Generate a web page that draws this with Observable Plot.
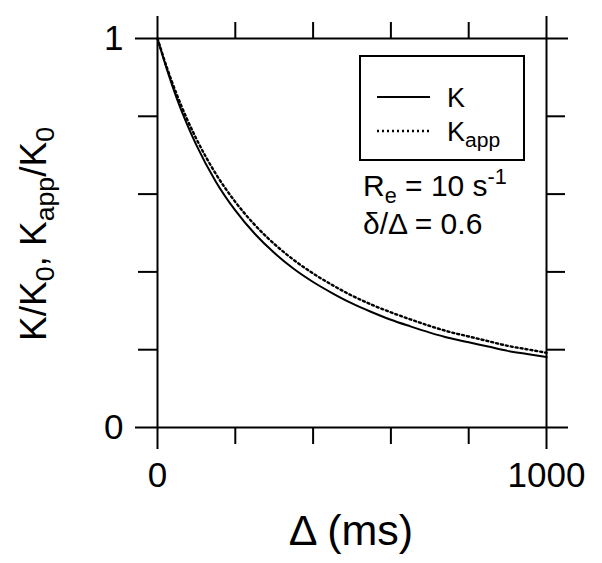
<!DOCTYPE html>
<html>
<head>
<meta charset="utf-8">
<script src="https://cdn.jsdelivr.net/npm/d3@7"></script>
<script src="https://cdn.jsdelivr.net/npm/@observablehq/plot@0.6"></script>
<style>
  html, body { margin: 0; padding: 0; background: white; }
  #chart svg { display: block; }
</style>
</head>
<body>
<div id="chart"></div>
<script>
// ---- data ----
const delta = [0, 25, 50, 75, 100, 150, 200, 250, 300, 350, 400, 450, 500, 550, 600, 650, 700, 750, 800, 850, 900, 950, 1000];
const kRel = [1.0, 0.918, 0.845, 0.782, 0.726, 0.632, 0.558, 0.498, 0.449, 0.408, 0.374, 0.345, 0.319, 0.297, 0.277, 0.26, 0.244, 0.23, 0.219, 0.208, 0.197, 0.189, 0.181];
const kappRel = [1.0, 0.923, 0.855, 0.795, 0.742, 0.652, 0.58, 0.521, 0.472, 0.431, 0.396, 0.366, 0.339, 0.316, 0.296, 0.278, 0.261, 0.246, 0.234, 0.222, 0.21, 0.201, 0.192];
const xMinorTicks = [200, 400, 600, 800];
const xTickLabels = [0, 1000];
const yMinorTicks = [0.2, 0.4, 0.6, 0.8];
const yTickLabels = [0, 1];
const seriesNames = ["K", "K_{app}"];
const xLabel = "\u0394 (ms)";
const yLabel = "K/K_{0}, K_{app}/K_{0}";
const annotations = ["R_{e} = 10 s^{-1}", "\u03b4/\u0394 = 0.6"];

const kRows = delta.map((d, i) => ({delta: d, v: kRel[i]}));
const kappRows = delta.map((d, i) => ({delta: d, v: kappRel[i]}));

const FONT = "'Liberation Sans', Arial, Helvetica, sans-serif";
const W = 602, H = 563;
const M = {left: 157, right: 56, top: 38, bottom: 136};
const DOTS = "2,3";
const blank = () => "";

const plot = Plot.plot({
  width: W, height: H,
  marginLeft: M.left, marginRight: M.right, marginTop: M.top, marginBottom: M.bottom,
  style: {fontFamily: FONT, fontSize: "35px", background: "white", color: "black"},
  x: {domain: [0, 1000], label: null},
  y: {domain: [0, 1], label: null},
  marks: [
    // frame lines (extended past the corners)
    Plot.ruleY([0, 1], {insetLeft: -22, insetRight: -22, strokeWidth: 2}),
    Plot.ruleX([0, 1000], {insetTop: -22, insetBottom: -22, strokeWidth: 2}),
    // minor ticks on all sides
    Plot.axisX(xMinorTicks, {anchor: "bottom", tickSize: 17, strokeWidth: 2, tickFormat: blank, label: null}),
    Plot.axisX(xMinorTicks, {anchor: "top", tickSize: 17, strokeWidth: 2, tickFormat: blank, label: null}),
    Plot.axisY(yMinorTicks, {anchor: "left", tickSize: 19, strokeWidth: 2, tickFormat: blank, label: null}),
    Plot.axisY(yMinorTicks, {anchor: "right", tickSize: 18, strokeWidth: 2, tickFormat: blank, label: null}),
    // tick labels
    Plot.axisX(xTickLabels, {anchor: "bottom", tickSize: 0, tickPadding: 35, fontSize: 35, tickFormat: d => `${d}`, label: null}),
    Plot.axisY(yTickLabels, {anchor: "left", tickSize: 0, tickPadding: 34, fontSize: 35, tickFormat: d => `${d}`, label: null}),
    // curves
    Plot.line(kappRows, {x: "delta", y: "v", stroke: "black", strokeWidth: 2.4, strokeDasharray: DOTS, curve: "monotone-x"}),
    Plot.line(kRows, {x: "delta", y: "v", stroke: "black", strokeWidth: 2, curve: "monotone-x"})
  ]
});
document.getElementById("chart").appendChild(plot);

// ---- rich text helper (sub/superscripts) ----
function richText(g, str, size, subScale = 0.72) {
  const parts = str.split(/(_\{[^}]*\}|\^\{[^}]*\})/).filter(s => s.length);
  let shift = 0;
  for (const p of parts) {
    let target = 0, txt = p, fs = size;
    if (p.startsWith("_{")) { target = 0.22 * size; txt = p.slice(2, -1); fs = size * subScale; }
    else if (p.startsWith("^{")) { target = -0.4 * size; txt = p.slice(2, -1); fs = size * subScale; }
    g.append("tspan").attr("dy", target - shift).attr("font-size", fs).text(txt);
    shift = target;
  }
}

const svg = d3.select(plot);
const ann = svg.append("g").attr("font-family", FONT).attr("fill", "black").attr("text-anchor", "start");

// axis titles
const yl = ann.append("text").attr("transform", "translate(46,234) rotate(-90)")
  .attr("text-anchor", "middle").attr("font-size", 37);
richText(yl, yLabel, 37);
const xl = ann.append("text").attr("x", 351).attr("y", 545)
  .attr("text-anchor", "middle").attr("font-size", 43);
richText(xl, xLabel, 43);

// legend
const L = {x: 360, y: 56, w: 164, h: 104};
ann.append("rect").attr("x", L.x).attr("y", L.y).attr("width", L.w).attr("height", L.h)
  .attr("fill", "none").attr("stroke", "black").attr("stroke-width", 2);
const rows = [{y: 97, dash: null, w: 2}, {y: 131, dash: DOTS, w: 2.4}];
rows.forEach((r, i) => {
  ann.append("line").attr("x1", 377).attr("x2", 430).attr("y1", r.y).attr("y2", r.y)
    .attr("stroke", "black").attr("stroke-width", r.w).attr("stroke-dasharray", r.dash);
  const t = ann.append("text").attr("x", 447).attr("y", r.y + 10).attr("font-size", 27);
  richText(t, seriesNames[i], 27, 0.78);
});

// annotation text
annotations.forEach((a, i) => {
  const t = ann.append("text").attr("x", 363).attr("y", 196 + i * 38).attr("font-size", 30);
  richText(t, a, 30);
});
</script>
</body>
</html>
